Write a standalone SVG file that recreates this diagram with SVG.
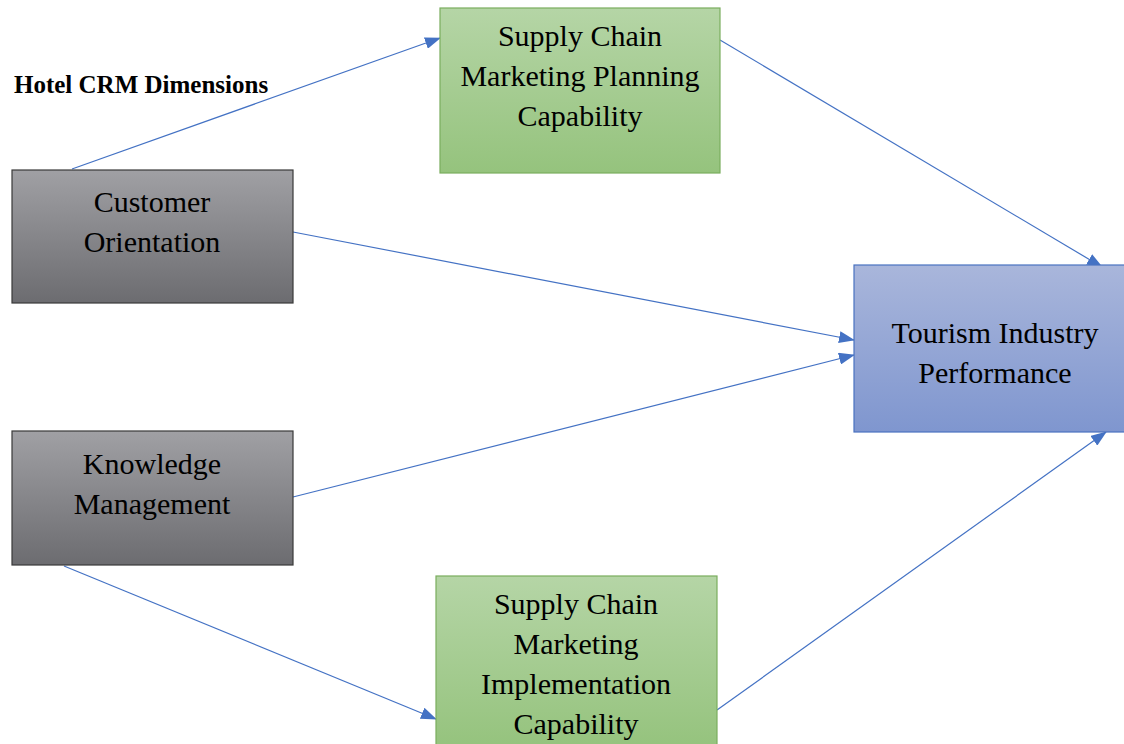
<svg xmlns="http://www.w3.org/2000/svg" width="1124" height="744" viewBox="0 0 1124 744">
<defs>
<linearGradient id="gGray" x1="0" y1="0" x2="0" y2="1"><stop offset="0" stop-color="#a0a0a4"/><stop offset="1" stop-color="#6c6c70"/></linearGradient>
<linearGradient id="gGreen" x1="0" y1="0" x2="0" y2="1"><stop offset="0" stop-color="#b5d5a6"/><stop offset="1" stop-color="#95c37d"/></linearGradient>
<linearGradient id="gBlue" x1="0" y1="0" x2="0" y2="1"><stop offset="0" stop-color="#a9b6db"/><stop offset="1" stop-color="#7f96cf"/></linearGradient>
<marker id="arr" markerUnits="userSpaceOnUse" markerWidth="16" markerHeight="12" refX="15" refY="6" orient="auto"><path d="M0,0 L16,6 L0,12 Z" fill="#4472c4"/></marker>
<style>
.t{font-family:"Liberation Serif","Times New Roman",serif;font-size:30px;fill:#000;text-anchor:middle}
.gray{fill:url(#gGray);stroke:#3a3a3a;stroke-width:1.2}
.green{fill:url(#gGreen);stroke:#7aad5e;stroke-width:1.2}
.blue{fill:url(#gBlue);stroke:#4a72c0;stroke-width:1.2}
.c{stroke:#4472c4;stroke-width:1.2;fill:none;marker-end:url(#arr)}
</style>
</defs>
<text x="14" y="93" style="font-family:'Liberation Serif','Times New Roman',serif;font-size:25px;font-weight:bold">Hotel CRM Dimensions</text>
<g id="connectors">
<line class="c" x1="72" y1="169" x2="440" y2="38"/>
<line class="c" x1="293" y1="232" x2="854" y2="340"/>
<line class="c" x1="293" y1="497" x2="854" y2="355"/>
<line class="c" x1="64" y1="566" x2="436" y2="719"/>
<line class="c" x1="720" y1="40" x2="1102" y2="267"/>
<line class="c" x1="717" y1="710" x2="1106" y2="432"/>
</g>
<g id="customer">
<rect class="gray" x="12" y="170" width="281" height="133"/>
<text class="t" x="152" y="212">Customer</text>
<text class="t" x="152" y="252">Orientation</text>
</g>
<g id="knowledge">
<rect class="gray" x="12" y="431" width="281" height="134"/>
<text class="t" x="152" y="474">Knowledge</text>
<text class="t" x="152" y="514">Management</text>
</g>
<g id="planning">
<rect class="green" x="440" y="8" width="280" height="165"/>
<text class="t" x="580" y="46">Supply Chain</text>
<text class="t" x="580" y="86">Marketing Planning</text>
<text class="t" x="580" y="126">Capability</text>
</g>
<g id="tourism">
<rect class="blue" x="854" y="265" width="274" height="167"/>
<text class="t" x="995" y="343">Tourism Industry</text>
<text class="t" x="995" y="383">Performance</text>
</g>
<g id="implementation">
<rect class="green" x="436" y="576" width="281" height="172"/>
<text class="t" x="576" y="614">Supply Chain</text>
<text class="t" x="576" y="654">Marketing</text>
<text class="t" x="576" y="694">Implementation</text>
<text class="t" x="576" y="734">Capability</text>
</g>
</svg>
